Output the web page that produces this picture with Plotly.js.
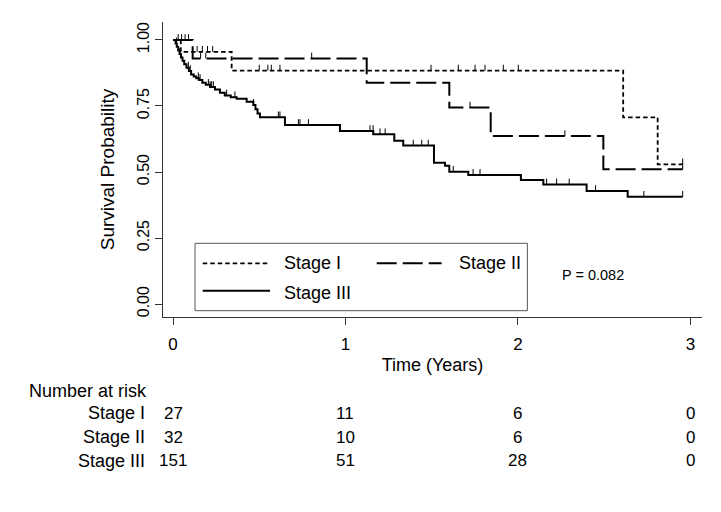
<!DOCTYPE html>
<html>
<head>
<meta charset="utf-8">
<script src="https://cdn.plot.ly/plotly-3.0.1.min.js"></script>
<style>html,body{margin:0;padding:0;background:#fff;}#chart{width:721px;height:512px;}</style>
</head>
<body>
<div id="chart"></div>
<script>
// ---- Data ----
const stage1Times = [0, 0.045, 0.34, 2.61, 2.81, 2.955];
const stage1Surv  = [1.0, 0.955, 0.884, 0.707, 0.529, 0.529];
const stage1Censor = [0.14, 0.17, 0.20, 0.23, 0.50, 0.55, 0.57, 0.62, 1.496, 1.654, 1.751, 1.809, 1.915, 2.002, 2.955];

const stage2Times = [0, 0.114, 1.123, 1.602, 1.842, 2.495, 2.955];
const stage2Surv  = [1.0, 0.930, 0.838, 0.744, 0.636, 0.510, 0.510];
const stage2Censor = [0.03, 0.05, 0.07, 0.09, 0.16, 0.19, 0.804, 1.722, 2.272, 2.955];

const stage3Times = [0, 0.015, 0.022, 0.030, 0.038, 0.046, 0.055, 0.065, 0.078, 0.092, 0.105, 0.120, 0.135, 0.150,
  0.170, 0.190, 0.215, 0.243, 0.272, 0.300, 0.335, 0.369, 0.427, 0.466, 0.478, 0.490, 0.504, 0.649, 0.968,
  1.161, 1.283, 1.335, 1.513, 1.577, 1.602, 1.712, 2.017, 2.147, 2.398, 2.636, 2.955];
const stage3Surv  = [1.0, 0.987, 0.974, 0.960, 0.947, 0.934, 0.921, 0.908, 0.895, 0.882, 0.869, 0.862, 0.855, 0.848,
  0.838, 0.830, 0.822, 0.812, 0.800, 0.790, 0.783, 0.777, 0.766, 0.754, 0.738, 0.722, 0.707, 0.678, 0.655,
  0.643, 0.618, 0.600, 0.535, 0.524, 0.501, 0.489, 0.470, 0.453, 0.428, 0.406, 0.406];
const stage3Censor = [0.02, 0.04, 0.089, 0.10, 0.147, 0.157, 0.205, 0.215, 0.224, 0.234, 0.311, 0.359, 0.466, 0.611, 0.620,
  0.727, 0.736, 0.785, 1.142, 1.16, 1.20, 1.23, 1.393, 1.442, 1.480, 1.625, 1.74, 1.78, 2.166, 2.224, 2.297, 2.45, 2.73, 2.955];

const groupNames = ["Stage I", "Stage II", "Stage III"];
const riskTimes = [0, 1, 2, 3];
const riskStage1 = [27, 11, 6, 0];
const riskStage2 = [32, 10, 6, 0];
const riskStage3 = [151, 51, 28, 0];
const pValueText = "P = 0.082";

// ---- Styles ----
const FONT = "Arial, 'Liberation Sans', sans-serif";
const dashes = ["4.5px,3px", "20px,6px", "solid"];
const widths = [1.8, 2, 2];

function stepAt(ts, ss, t) {
  let v = ss[0];
  for (let i = 0; i < ts.length; i++) { if (ts[i] <= t) v = ss[i]; }
  return v;
}

const series = [
  {t: stage1Times, s: stage1Surv, c: stage1Censor},
  {t: stage2Times, s: stage2Surv, c: stage2Censor},
  {t: stage3Times, s: stage3Surv, c: stage3Censor}
];

const traces = [];
series.forEach((g, i) => {
  traces.push({
    type: 'scatter', mode: 'lines', name: groupNames[i],
    x: g.t, y: g.s,
    line: {shape: 'hv', color: '#000', width: widths[i], dash: dashes[i]},
    showlegend: false, hoverinfo: 'skip'
  });
  traces.push({
    type: 'scatter', mode: 'markers', name: groupNames[i] + ' censored',
    x: g.c, y: g.c.map(t => stepAt(g.t, g.s, t)),
    marker: {size: 1, color: 'rgba(0,0,0,0)'},
    error_y: {type: 'constant', symmetric: false, value: 0.022, valueminus: 0, width: 0, thickness: 1, color: '#000'},
    showlegend: false, hoverinfo: 'skip'
  });
});

// ---- Number at risk table ----
const annotations = [];
const rowY = [-0.326, -0.408, -0.488];
const riskRows = [riskStage1, riskStage2, riskStage3];
annotations.push({xref: 'paper', yref: 'paper', x: -0.2523, y: -0.251, xanchor: 'left', yanchor: 'middle',
  text: 'Number at risk', showarrow: false, font: {family: FONT, size: 18, color: '#000'}});
riskRows.forEach((row, r) => {
  annotations.push({xref: 'paper', yref: 'paper', x: -0.0297, y: rowY[r], xanchor: 'right', yanchor: 'middle',
    text: groupNames[r], showarrow: false, font: {family: FONT, size: 18, color: '#000'}});
  row.forEach((n, k) => {
    annotations.push({xref: 'x', yref: 'paper', x: riskTimes[k], y: rowY[r], xanchor: 'center', yanchor: 'middle',
      text: String(n), showarrow: false, font: {family: FONT, size: 17, color: '#000'}});
  });
});

// ---- Legend (drawn box) ----
const legendItems = [
  {lx0: 0.0737, lx1: 0.1985, ly: 0.182, tx: 0.2202, ty: 0.182},
  {lx0: 0.3965, lx1: 0.517, ly: 0.182, tx: 0.545, ty: 0.182},
  {lx0: 0.0737, lx1: 0.1985, ly: 0.089, tx: 0.2202, ty: 0.080}
];
const shapes = [{type: 'rect', xref: 'paper', yref: 'paper', x0: 0.0594, x1: 0.676, y0: 0.0214, y1: 0.2498,
  line: {color: '#555', width: 1}, fillcolor: 'rgba(255,255,255,1)', layer: 'above'}];
legendItems.forEach((it, i) => {
  shapes.push({type: 'line', xref: 'paper', yref: 'paper', x0: it.lx0, x1: it.lx1, y0: it.ly, y1: it.ly,
    line: {color: '#000', width: widths[i], dash: dashes[i]}, layer: 'above'});
  annotations.push({xref: 'paper', yref: 'paper', x: it.tx, y: it.ty, xanchor: 'left', yanchor: 'middle',
    text: groupNames[i], showarrow: false, font: {family: FONT, size: 18, color: '#000'}});
});
annotations.push({xref: 'paper', yref: 'paper', x: 0.798, y: 0.142, xanchor: 'center', yanchor: 'middle',
  text: pValueText, showarrow: false, font: {family: FONT, size: 14.5, color: '#000'}});

const layout = {
  width: 721, height: 512,
  margin: {l: 163, r: 19, t: 22, b: 195, pad: 0},
  paper_bgcolor: '#fff', plot_bgcolor: '#fff',
  font: {family: FONT, color: '#000'},
  showlegend: false,
  xaxis: {
    range: [-0.058, 3.067], tickvals: riskTimes, ticktext: riskTimes.map(String),
    ticks: 'outside', ticklen: 7, tickwidth: 1, tickcolor: '#333',
    showline: true, linecolor: '#333', linewidth: 1, showgrid: false, zeroline: false,
    tickfont: {family: FONT, size: 17, color: '#000'}, ticklabelstandoff: 5, automargin: false,
    title: {text: 'Time (Years)', font: {family: FONT, size: 18, color: '#000'}, standoff: 4}
  },
  yaxis: {
    range: [-0.049, 1.068], tickvals: [0, 0.25, 0.5, 0.75, 1], ticktext: ['0.00', '0.25', '0.50', '0.75', '1.00'],
    tickangle: -90, ticks: 'outside', ticklen: 7, tickwidth: 1, tickcolor: '#333',
    showline: true, linecolor: '#333', linewidth: 1, showgrid: false, zeroline: false,
    tickfont: {family: FONT, size: 16, color: '#000'}, automargin: false,
    title: {text: 'Survival Probability', font: {family: FONT, size: 19, color: '#000'}, standoff: 14}
  },
  annotations: annotations,
  shapes: shapes
};

Plotly.newPlot('chart', traces, layout, {displayModeBar: false, staticPlot: true});
</script>
</body>
</html>
